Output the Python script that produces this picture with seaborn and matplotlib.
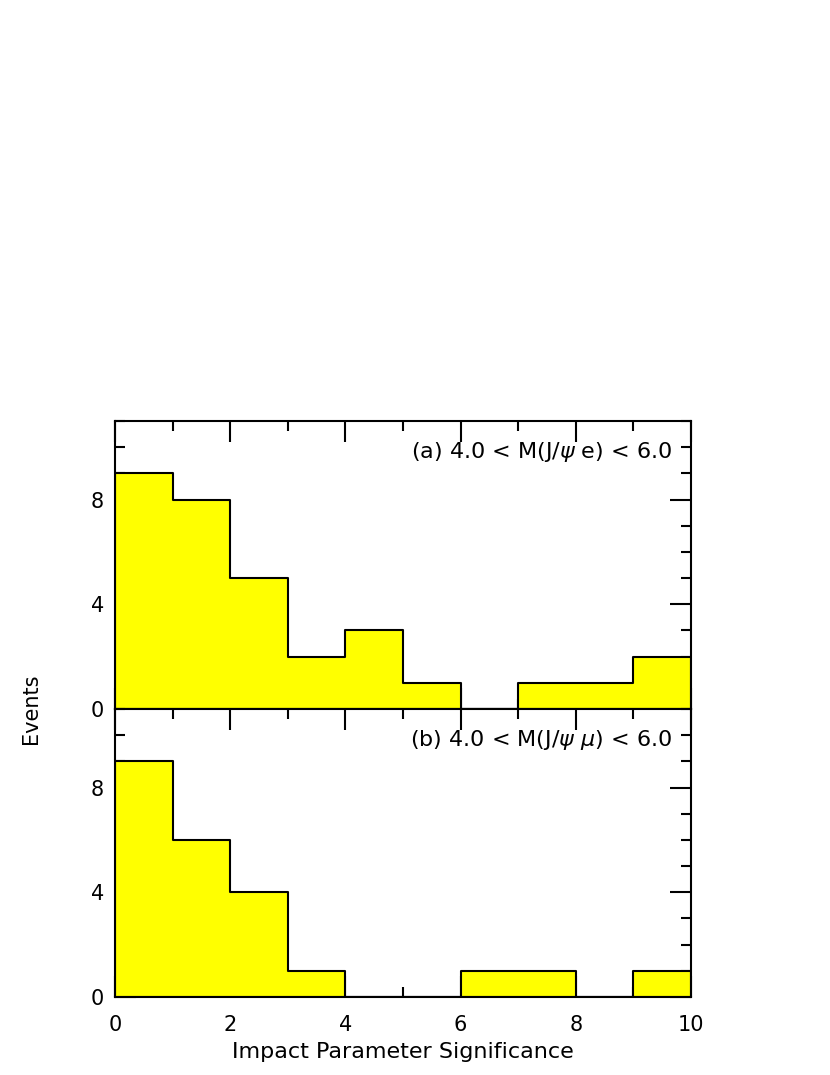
import numpy as np
import matplotlib
matplotlib.use("Agg")
import matplotlib.pyplot as plt
import seaborn as sns
from matplotlib.ticker import MultipleLocator

# bin edges and counts
bin_edges = [0, 1, 2, 3, 4, 5, 6, 7, 8, 9, 10]
bin_centers = [0.5, 1.5, 2.5, 3.5, 4.5, 5.5, 6.5, 7.5, 8.5, 9.5]
counts_e = [9, 8, 5, 2, 3, 1, 0, 1, 1, 2]
counts_mu = [9, 6, 4, 1, 0, 0, 1, 1, 0, 1]
labels = [r"(a) 4.0 < M(J/$\psi$ e) < 6.0", r"(b) 4.0 < M(J/$\psi$ $\mu$) < 6.0"]

sns.set_style("ticks")
plt.rcParams["font.family"] = ["DejaVu Sans"]
plt.rcParams["mathtext.fontset"] = "dejavusans"
plt.rcParams["text.color"] = "black"

fig = plt.figure(figsize=(8.3, 10.75), dpi=100)
left = 115 / 830
width = (691 - 115) / 830
h = 288 / 1075
ax_top = fig.add_axes([left, 1 - 709 / 1075, width, h])
ax_bot = fig.add_axes([left, 1 - 997 / 1075, width, h], sharex=ax_top)

for ax, counts, lab in zip([ax_top, ax_bot], [counts_e, counts_mu], labels):
    sns.histplot(x=bin_centers, weights=counts, bins=bin_edges, element="step",
                 fill=True, color="#ffff00", edgecolor="black", linewidth=1.5,
                 alpha=1, ax=ax)
    ax.set_xlim(0, 10)
    ax.set_ylim(0, 11)
    ax.set_ylabel("")
    ax.set_xlabel("")
    ax.xaxis.set_major_locator(MultipleLocator(2))
    ax.xaxis.set_minor_locator(MultipleLocator(1))
    ax.yaxis.set_major_locator(MultipleLocator(4))
    ax.yaxis.set_minor_locator(MultipleLocator(1))
    ax.tick_params(which="both", direction="in", top=True, right=True,
                   width=1.5, labelsize=15, colors="black")
    ax.tick_params(which="major", length=15)
    ax.tick_params(axis="x", which="major", pad=13)
    ax.tick_params(axis="y", which="major", pad=8)
    ax.tick_params(which="minor", length=7)
    for s in ax.spines.values():
        s.set_linewidth(1.5)
        s.set_color("black")
        s.set_visible(True)
    ax.text(0.967, 0.87, lab, transform=ax.transAxes, ha="right", va="baseline",
            fontsize=16, color="black")

ax_top.tick_params(labelbottom=False)
ax_bot.set_xlabel("Impact Parameter Significance", fontsize=16, labelpad=5,
                  color="black")
fig.text(31 / 830, 1 - 709 / 1075, "Events", rotation=90, ha="center",
         va="center", fontsize=15, color="black")

fig.savefig("out.png", dpi=100)
